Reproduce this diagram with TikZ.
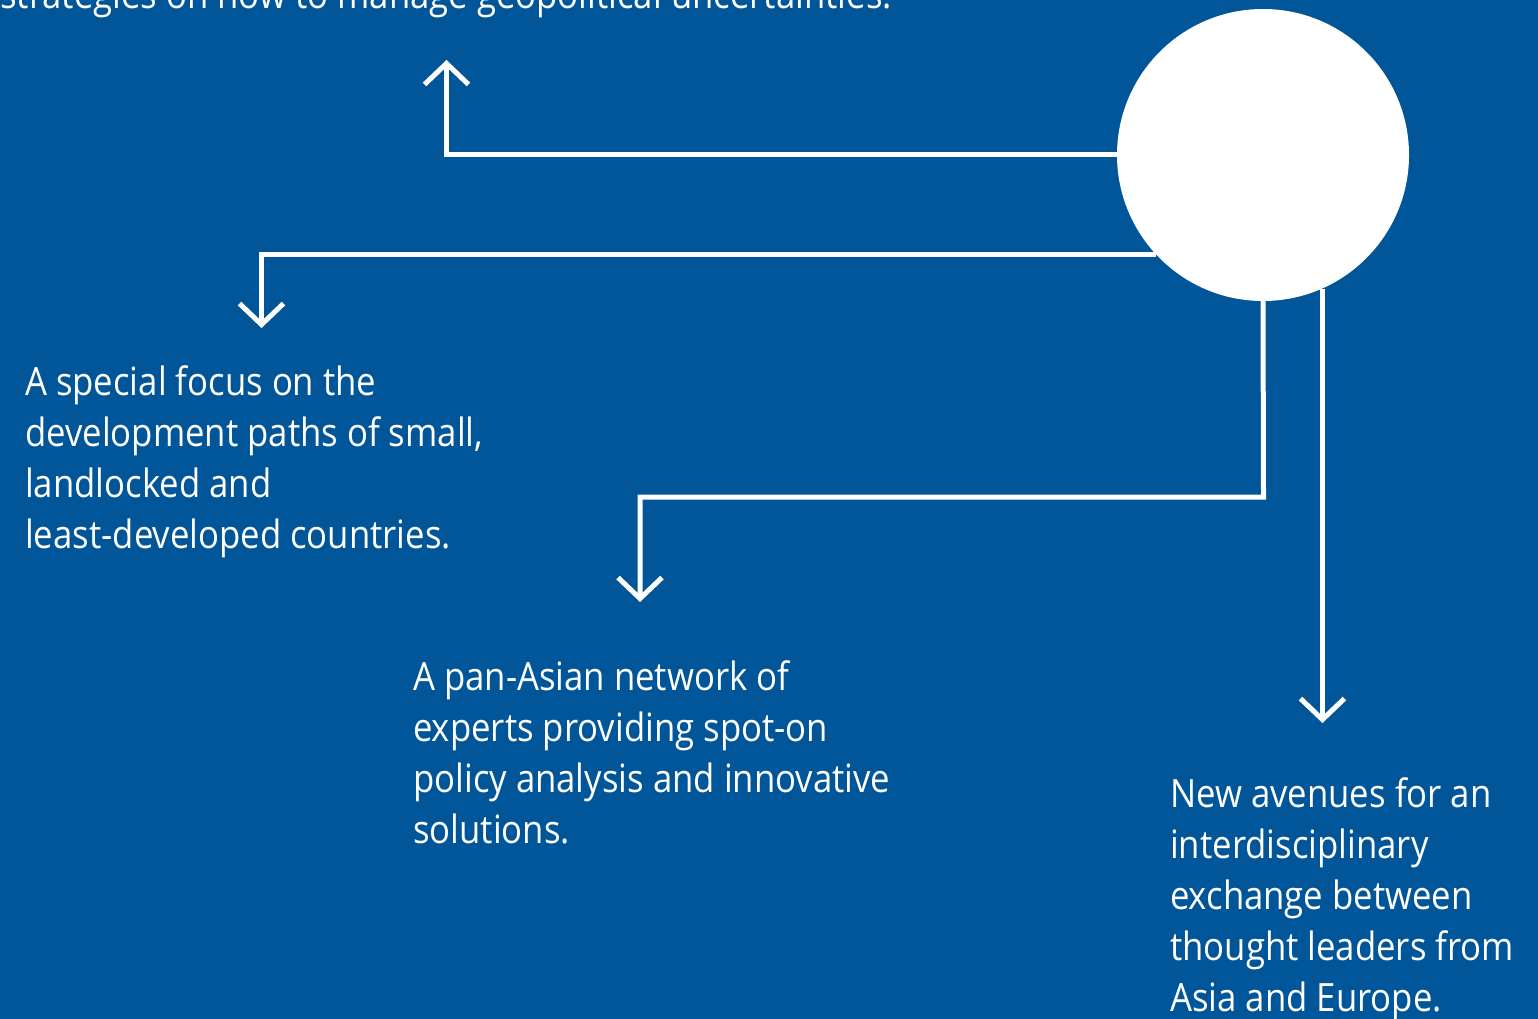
\documentclass[tikz,border=0pt]{standalone}
\usepackage{fontspec}
\setmainfont[FakeStretch=0.89]{Open Sans}
\usetikzlibrary{arrows.meta}
\definecolor{bgblue}{RGB}{0,86,152}
\tikzset{
  conn/.style={draw=white, line width=5pt, -{Straight Barb[length=21pt,width=44pt]}},
  txt/.style={text=white, inner sep=0pt, align=left, anchor=base west,
    font=\fontsize{39}{51}\selectfont},
}
\begin{document}
\begin{tikzpicture}[x=1pt,y=-1pt]
\useasboundingbox (0,0) rectangle (1538,1019);
\clip (0,0) rectangle (1538,1019);
\fill[bgblue] (0,0) rectangle (1538,1019);

\node[circle, fill=white, minimum size=292pt, inner sep=0pt] (c) at (1263,155) {};

\coordinate (t1) at (446.5,60);
\coordinate (t2) at (261.5,328);
\coordinate (b3) at (1263.5,497);
\coordinate (t3) at (640,602);
\coordinate (t4) at (1321.5,723);

\draw[conn] (c.west) -| (t1);
\draw[conn] (c.223.8) -| (t2);
\draw[conn] (c.south) -- (b3) -| (t3);
\draw[conn] (c.-66.4) -- (c.-66.4 |- t4);

\node[txt, anchor=base east] (top) at (892,8.5) {strategies on how to manage geopolitical uncertainties.};
\node[txt] (n1) at (25,548) {A special focus on the\\development paths of small,\\landlocked and\\least-developed countries.};
\node[txt] (n2) at (413,843) {A pan-Asian network of\\experts providing spot-on\\policy analysis and innovative\\solutions.};
\node[txt] (n3) at (1170,1011) {New avenues for an\\interdisciplinary\\exchange between\\thought leaders from\\Asia and Europe.};
\end{tikzpicture}
\end{document}
